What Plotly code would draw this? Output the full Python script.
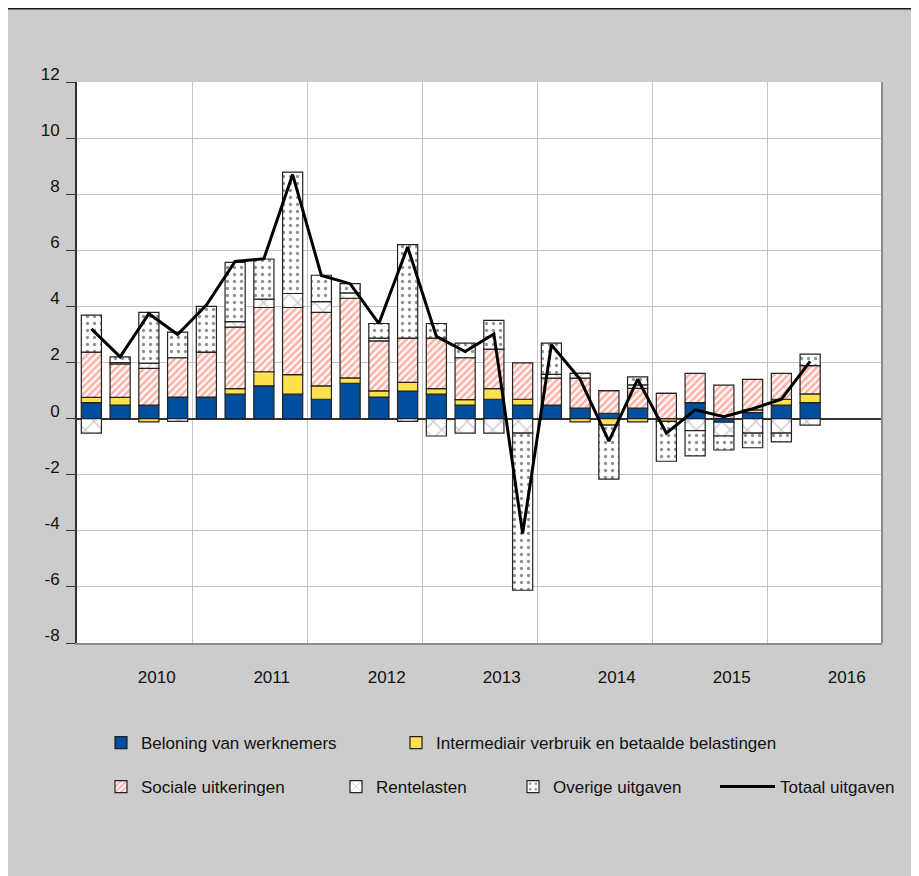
import plotly.graph_objects as go

# ---- data (quarterly, 2010K1 .. 2016K2) ----
years = ["2010", "2011", "2012", "2013", "2014", "2015", "2016"]
quarters = [f"{y}K{q}" for y in years for q in range(1, 5)][:26]

beloning = [0.57, 0.48, 0.48, 0.77, 0.77, 0.87, 1.17, 0.87, 0.69, 1.26, 0.77, 0.98, 0.87,
            0.48, 0.69, 0.48, 0.48, 0.37, 0.19, 0.37, 0.00, 0.57, -0.13, 0.21, 0.48, 0.57]
intermediair = [0.19, 0.28, -0.12, 0.00, 0.00, 0.20, 0.50, 0.70, 0.48, 0.19, 0.22, 0.31, 0.20,
                0.20, 0.38, 0.21, 0.00, -0.12, -0.23, -0.12, -0.10, 0.00, 0.00, 0.10, 0.21, 0.31]
sociale = [1.61, 1.19, 1.31, 1.40, 1.60, 2.19, 2.29, 2.39, 2.62, 2.84, 1.78, 1.58, 1.80,
           1.49, 1.41, 1.30, 0.96, 1.07, 0.81, 0.71, 0.90, 1.04, 1.19, 1.09, 0.92, 1.01]
rentelasten = [-0.52, 0.05, 0.19, -0.10, 0.00, 0.20, 0.30, 0.50, 0.38, 0.19, 0.10, -0.10, -0.62,
               -0.52, -0.52, -0.52, 0.14, 0.17, 0.00, 0.12, 0.00, -0.43, -0.49, -0.52, -0.52, -0.23]
overige = [1.32, 0.20, 1.81, 0.91, 1.63, 2.11, 1.43, 4.33, 0.94, 0.33, 0.52, 3.33, 0.52,
           0.52, 1.02, -5.60, 1.11, 0.00, -1.93, 0.29, -1.42, -0.90, -0.50, -0.52, -0.31, 0.41]
totaal = [3.20, 2.20, 3.74, 3.00, 4.05, 5.60, 5.70, 8.70, 5.10, 4.81, 3.39, 6.12, 2.93,
          2.39, 3.02, -4.10, 2.63, 1.40, -0.80, 1.40, -0.52, 0.31, 0.07, 0.35, 0.69, 2.04]

names = ["Beloning van werknemers", "Intermediair verbruik en betaalde belastingen",
         "Sociale uitkeringen", "Rentelasten", "Overige uitgaven", "Totaal uitgaven"]

y_ticks = [-8, -6, -4, -2, 0, 2, 4, 6, 8, 10, 12]

x = list(range(len(quarters)))

FONT = "Liberation Sans, Arial, sans-serif"
OUTLINE = dict(color="#222222", width=1.2)

fig = go.Figure()
fig.add_bar(x=x, y=beloning, name=names[0], marker=dict(color="#004F9F", line=OUTLINE),
            width=0.7, legend="legend")
fig.add_bar(x=x, y=intermediair, name=names[1], marker=dict(color="#FFE14F", line=OUTLINE),
            width=0.7, legend="legend2")
fig.add_bar(x=x, y=sociale, name=names[2],
            marker=dict(color="#FF6A55", line=OUTLINE,
                        pattern=dict(shape="/", fgcolor="#FF6A55", bgcolor="white",
                                     size=5, solidity=0.55)),
            width=0.7, legend="legend3")
fig.add_bar(x=x, y=rentelasten, name=names[3],
            marker=dict(color="#999999", line=OUTLINE,
                        pattern=dict(shape="x", fgcolor="#8F8F8F", bgcolor="white",
                                     size=12, solidity=0.2)),
            width=0.7, legend="legend4")
fig.add_bar(x=x, y=overige, name=names[4],
            marker=dict(color="#222222", line=OUTLINE,
                        pattern=dict(shape=".", fgcolor="#222222", bgcolor="white",
                                     size=7, solidity=0.17)),
            width=0.7, legend="legend5")
fig.add_scatter(x=x, y=totaal, name=names[5], mode="lines",
                line=dict(color="black", width=3), legend="legend6")

# figure is drawn 8px into the page; plot area in figure pixels
L, R, T, B = 69, 874, 74, 635
W, H = 919, 876
pw, ph = R - L, B - T


def px_x(p):
    return (p - L) / pw


def px_y(p):
    return (B - p) / ph


def leg(xpix, ypix, iw=30):
    return dict(x=px_x(xpix), y=px_y(ypix), xanchor="left", yanchor="middle",
                orientation="h", bgcolor="rgba(0,0,0,0)", itemwidth=iw,
                font=dict(family=FONT, size=17, color="#111111"))


year_start = [4 * i - 0.5 for i in range(len(years))]
fig.update_layout(
    width=W, height=H,
    margin=dict(l=L, r=W - R, t=T, b=H - B),
    paper_bgcolor="#CCCCCC", plot_bgcolor="white",
    barmode="relative", bargap=0.3,
    font=dict(family=FONT, size=17, color="#111111"),
    showlegend=True,
    legend=leg(93, 735),
    legend2=leg(388, 735),
    legend3=leg(93, 779),
    legend4=leg(328, 779),
    legend5=leg(505, 779),
    legend6=leg(707, 779, 55),
    xaxis=dict(range=[-0.5, 27.5], tickmode="array",
               tickvals=[s + 0.5 + 65.3 / 28.75 for s in year_start], ticktext=years,
               showgrid=False, ticks="", ticklabelstandoff=18,
               showline=True, linecolor="#8C8C8C", linewidth=2, zeroline=False,
               minor=dict(tickmode="array", tickvals=year_start[1:], showgrid=True,
                          gridcolor="#C4C4C4", gridwidth=1, ticks="")),
    yaxis=dict(range=[-8, 12], tickmode="array", tickvals=y_ticks,
               ticktext=[str(v) for v in y_ticks],
               showgrid=True, gridcolor="#C4C4C4",
               gridwidth=1, ticks="outside", ticklen=9, tickcolor="#333333", tickwidth=1,
               ticklabelshift=-8, ticklabelstandoff=3,
               showline=True, linecolor="#333333", linewidth=2,
               zeroline=True, zerolinecolor="#333333", zerolinewidth=1.5),
    hovermode=False,
)

# frame decorations: right border of plot, top rule of the page
fig.add_shape(type="line", xref="paper", yref="paper", x0=1, x1=1, y0=0, y1=1,
              line=dict(color="#8C8C8C", width=2))
fig.add_shape(type="line", xref="paper", yref="paper", x0=px_x(0), x1=px_x(W),
              y0=px_y(0), y1=px_y(0), line=dict(color="#1a1a1a", width=3))

fig.write_html("out.html")
